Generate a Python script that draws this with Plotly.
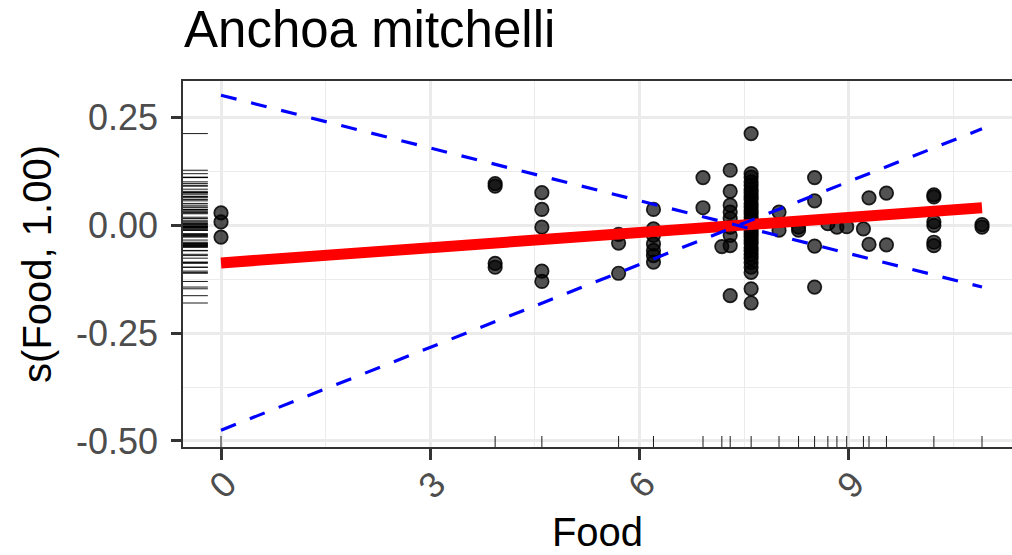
import plotly.graph_objects as go

# ---- data ----
food_x = (
    [0.0] * 3 + [3.93] * 4 + [4.60] * 5 + [5.70] * 3 + [6.20] * 7 + [6.91] * 2 +
    [7.18] + [7.30] * 9 + [7.60] * 31 + [8.00] * 2 + [8.28] * 2 + [8.51] * 4 +
    [8.70] + [8.83] + [8.97] + [9.21] + [9.29] * 2 + [9.54] * 2 + [10.22] * 6 + [10.91] * 2
)
partial_resid = [
    0.029, 0.008, -0.027,
    0.097, 0.091, -0.088, -0.097,
    0.076, 0.037, -0.004, -0.106, -0.130,
    -0.021, -0.041, -0.111,
    0.037, -0.008, -0.023, -0.043, -0.058, -0.070, -0.085,
    0.111, 0.041,
    -0.049,
    0.128, 0.079, 0.047, 0.031, 0.016, -0.004, -0.023, -0.047, -0.163,
    0.213, 0.120, 0.112, 0.101, 0.093, 0.084, 0.076, 0.067, 0.060, 0.051, 0.043,
    0.034, 0.027, 0.019, 0.012, 0.004, -0.003, -0.011, -0.019, -0.026, -0.034,
    -0.042, -0.051, -0.059, -0.067, -0.076, -0.086, -0.097, -0.109, -0.147, -0.180,
    0.031, -0.011,
    -0.004, -0.011,
    0.111, 0.057, -0.048, -0.143,
    0.004,
    -0.004,
    -0.003,
    -0.008,
    0.064, -0.044,
    0.075, -0.045,
    0.071, 0.066, 0.008, 0.000, -0.039, -0.047,
    0.002, -0.004,
]

smooth_x = [0.0, 10.91]
smooth_fit = [-0.087, 0.041]
ci_from_top = [0.302, -0.143]
ci_from_bottom = [-0.475, 0.224]

x_ticks = [0, 3, 6, 9]
x_tick_labels = ["0", "3", "6", "9"]
x_minor = [1.5, 4.5, 7.5, 10.5]
y_ticks = [0.25, 0.0, -0.25, -0.50]
y_tick_labels = ["0.25", "0.00", "-0.25", "-0.50"]
y_minor = [0.125, -0.125, -0.375]

title_text = "Anchoa mitchelli"
x_title = "Food"
y_title = "s(Food, 1.00)"

FONT = "Liberation Sans, Arial, Helvetica, sans-serif"
GRID = "#EBEBEB"
AXIS = "#333333"
TICKTXT = "#4D4D4D"

fig = go.Figure()

fig.add_trace(go.Scatter(
    x=food_x, y=partial_resid, mode="markers",
    marker=dict(size=13.5, color="rgba(0,0,0,0.68)",
                line=dict(color="rgba(0,0,0,0.85)", width=1.7)),
    hoverinfo="x+y", showlegend=False,
))
fig.add_trace(go.Scatter(
    x=smooth_x, y=smooth_fit, mode="lines",
    line=dict(color="#FF0000", width=11), showlegend=False,
))
for ci in (ci_from_top, ci_from_bottom):
    fig.add_trace(go.Scatter(
        x=smooth_x, y=ci, mode="lines",
        line=dict(color="#0000FF", width=3.2, dash="16px,15px"), showlegend=False,
    ))

# rugs
shapes = []
for yv in partial_resid:
    shapes.append(dict(type="line", xref="x domain", yref="y",
                       x0=0, x1=0.03, y0=yv, y1=yv,
                       line=dict(color="black", width=0.9), layer="above"))
for xv in sorted(set(food_x)):
    shapes.append(dict(type="line", xref="x", yref="y domain",
                       x0=xv, x1=xv, y0=0, y1=0.03,
                       line=dict(color="black", width=0.9), layer="above"))

# rotated x tick labels (ggplot style, centred under the tick)
annotations = []
for v, t in zip(x_ticks, x_tick_labels):
    annotations.append(dict(x=v, xref="x", y=-38 / 366, yref="paper",
                            text=t, showarrow=False, textangle=-45,
                            xanchor="center", yanchor="middle", xshift=2,
                            font=dict(size=36, color=TICKTXT, family=FONT)))

fig.update_layout(
    width=1012, height=555,
    margin=dict(l=183, r=0, t=81, b=108),
    paper_bgcolor="white", plot_bgcolor="white",
    shapes=shapes, annotations=annotations,
    font=dict(family=FONT),
    title=dict(text=title_text, x=184 / 1012, xanchor="left", xref="container",
               y=1 - 29 / 555, yanchor="middle", yref="container",
               font=dict(size=51, color="black", family=FONT)),
    xaxis=dict(
        range=[-0.545, 11.34], tickvals=x_ticks, ticktext=[""] * len(x_ticks),
        ticks="outside", ticklen=11, tickwidth=2.7, tickcolor=AXIS,
        showline=True, linecolor=AXIS, linewidth=1.6, mirror=True,
        showgrid=True, gridcolor=GRID, gridwidth=2.7, zeroline=False,
        minor=dict(tickvals=x_minor, showgrid=True, gridcolor=GRID, gridwidth=1.4, ticks=""),
        title=dict(text=x_title, font=dict(size=40, color="black"), standoff=57),
    ),
    yaxis=dict(
        range=[-0.514, 0.335], tickvals=y_ticks, ticktext=y_tick_labels,
        tickfont=dict(size=36, color=TICKTXT),
        ticks="outside", ticklen=10, tickwidth=2.7, tickcolor=AXIS,
        showline=True, linecolor=AXIS, linewidth=1.6, mirror=False,
        showgrid=True, gridcolor=GRID, gridwidth=2.7, zeroline=False,
        minor=dict(tickvals=y_minor, showgrid=True, gridcolor=GRID, gridwidth=1.4, ticks=""),
        ticklabelstandoff=6,
        title=dict(text=y_title, font=dict(size=40, color="black"), standoff=12),
    ),
)

fig.write_html("out.html")
